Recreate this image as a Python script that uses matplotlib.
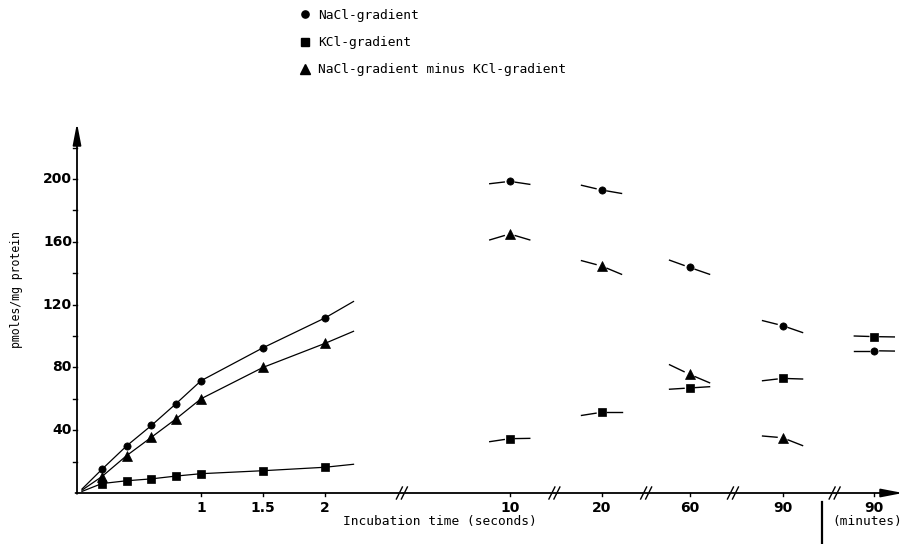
import matplotlib.pyplot as plt
from matplotlib.lines import Line2D

# early part of the time course (seconds)
t_early = [0.2, 0.4, 0.6, 0.8, 1, 1.5, 2]
nacl_early = [15, 30, 43, 57, 71.5, 92.5, 111.5]
kcl_early = [6, 7.8, 9, 10.8, 12.3, 14.2, 16.4]
diff_early = [10.4, 23.8, 35.5, 47.3, 60, 80, 95.3]
# where the drawn curves start and stop
t_curve_ends = [0.04, 2.23]
nacl_curve_ends = [2.5, 122]
kcl_curve_ends = [1.0, 18.3]
diff_curve_ends = [1.8, 103]
early_ticks = [1, 1.5, 2]
early_ticklabels = ["1", "1.5", "2"]

# later points: 10 s, 20 s, 60 s, 90 s, 90 min
late_labels = ["10", "20", "60", "90", "90"]
nacl_late = [198.5, 193, 143.7, 106.6, 90.6]
kcl_late = [34.6, 51.4, 66.9, 73, 99.6]
diff_late = [165, 144.6, 75.6, 35.2, None]
# value at left / right end of the short line pieces through each point
nacl_stubs = [(197, 196.6), (196, 190.8), (148.3, 139.3), (109.8, 102.2), (90.6, 90.4)]
kcl_stubs = [(32.7, 34.8), (49.4, 51.4), (66.1, 67.7), (71.5, 72.6), (100, 99.4)]
diff_stubs = [(161.2, 161.2), (148, 139.3), (81.7, 70.2), (36.3, 30.2), None]

yticks = [40, 80, 120, 160, 200]

# layout (1 x unit = 124 px, 1 y unit = 1.57 px)
late_pos = [3.49, 4.23, 4.94, 5.69, 6.43]
break_pos = [2.62, 3.85, 4.59, 5.29, 6.11]
PX_X = 1 / 124
PX_Y = 1 / 1.57

fig = plt.figure(figsize=(9.04, 5.44), dpi=100)
ax = fig.add_axes([0, 0, 1, 1])
ax.set_xlim(-77 * PX_X, 827 * PX_X)
ax.set_ylim(-51 * PX_Y, 493 * PX_Y)
ax.axis("off")

mono = "DejaVu Sans Mono"
arrow = dict(arrowstyle="-|>,head_length=1.3,head_width=0.25", lw=1.3, color="black",
             shrinkA=0, shrinkB=0, mutation_scale=10)

# axes with arrows
ax.annotate("", xy=(0, 370 * PX_Y), xytext=(0, -0.5), arrowprops=arrow)
ax.annotate("", xy=(826 * PX_X, 0), xytext=(-0.012, 0), arrowprops=arrow)

# y ticks
for v in range(20, 221, 20):
    ax.plot([0, -4 * PX_X], [v, v], color="black", lw=1.0)
for v in yticks:
    ax.text(-5 * PX_X, v, str(v), ha="right", va="center", fontsize=10, fontweight="bold")

# x ticks
tick_x = early_ticks + late_pos
tick_l = early_ticklabels + late_labels
for x, lab in zip(tick_x, tick_l):
    ax.plot([x, x], [0, -3 * PX_Y], color="black", lw=1.0)
    ax.text(x, -8 * PX_Y, lab, ha="center", va="top", fontsize=10, fontweight="bold")

# axis breaks
for b in break_pos:
    for off in (-2.5, 2.5):
        xc = b + off * PX_X
        ax.plot([xc - 3 * PX_X, xc + 3 * PX_X], [-6 * PX_Y, 6 * PX_Y], color="black", lw=1.0)

# seconds / minutes separator
ax.plot([6.01, 6.01], [-9 * PX_Y, -51 * PX_Y], color="black", lw=1.6)

ax.text(343 * PX_X - 77 * PX_X, -29 * PX_Y, "Incubation time (seconds)", ha="left", va="center",
        fontsize=9.3, family=mono)
ax.text(6.37, -29 * PX_Y, "(minutes)", ha="center", va="center", fontsize=9.3, family=mono)
ax.text(-60 * PX_X, 203 * PX_Y, "pmoles/mg protein", rotation=90, ha="center", va="center",
        fontsize=8.3, family=mono)

series = [
    (nacl_early, nacl_curve_ends, nacl_late, nacl_stubs, "o", 5.2, "NaCl-gradient"),
    (kcl_early, kcl_curve_ends, kcl_late, kcl_stubs, "s", 6.0, "KCl-gradient"),
    (diff_early, diff_curve_ends, diff_late, diff_stubs, "^", 7.0, "NaCl-gradient minus KCl-gradient"),
]

outer = 20 * PX_X
inner = 5.5 * PX_X
handles = []
for early, ends, late, stubs, mk, ms, lab in series:
    xs = [t_curve_ends[0]] + t_early + [t_curve_ends[1]]
    ys = [ends[0]] + early + [ends[1]]
    ax.plot(xs, ys, color="black", lw=0.9)
    ax.plot(t_early, early, ls="none", marker=mk, ms=ms, mfc="black", mec="black", mew=0.5)
    for p, v, st in zip(late_pos, late, stubs):
        if v is None:
            continue
        left, right = st
        f = inner / outer
        ax.plot([p - outer, p - inner], [left, v + (left - v) * f], color="black", lw=1.0)
        ax.plot([p + inner, p + outer], [v + (right - v) * f, right], color="black", lw=1.0)
        ax.plot([p], [v], ls="none", marker=mk, ms=ms, mfc="black", mec="black", mew=0.5)
    handles.append(Line2D([], [], ls="none", marker=mk, ms=ms, color="black", label=lab))

ax.legend(handles=handles, loc="upper left", bbox_to_anchor=(300 / 904, 1 - 9 / 544),
          frameon=False, handlelength=0.8, handletextpad=0.6, labelspacing=1.1,
          borderpad=0, borderaxespad=0, prop=dict(family=mono, size=9.3))

fig.savefig("out.png", dpi=100)
